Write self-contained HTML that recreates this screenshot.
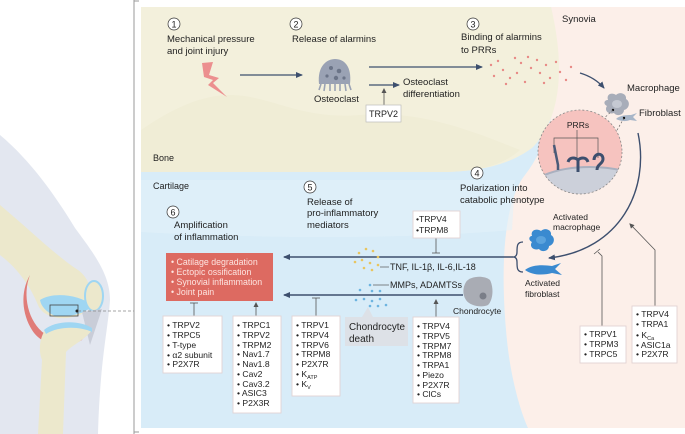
<!DOCTYPE html>
<html><head><meta charset="utf-8"><style>
html,body{margin:0;padding:0;background:#fff;}
svg{display:block;font-family:"Liberation Sans",Arial,sans-serif;}
</style></head><body>
<svg width="685" height="434" viewBox="0 0 685 434" xmlns="http://www.w3.org/2000/svg">
<defs>
<marker id="ah" markerWidth="8" markerHeight="8" refX="6" refY="3" orient="auto" markerUnits="userSpaceOnUse"><path d="M0,0 L7,3 L0,6 Z" fill="#3d4f6e"/></marker>
<marker id="ahs" markerWidth="6" markerHeight="6" refX="4" refY="2.5" orient="auto" markerUnits="userSpaceOnUse"><path d="M0,0 L5,2.5 L0,5 Z" fill="#555"/></marker>
</defs>
<!-- knee illustration -->
<path d="M0,135 C30,160 55,195 75,228 C95,255 110,275 110,300 C108,330 100,360 98,434 L0,434 Z" fill="#e3e7f0"/>
<path d="M0,205 L0,255 C20,270 32,290 38,305 C44,320 70,322 85,312 C95,300 92,280 78,270 C55,255 30,230 0,205 Z" fill="#ece8cc"/>
<path d="M30,275 C22,295 28,322 45,334 C55,342 70,342 85,332 L82,340 C65,350 42,346 32,330 C22,314 20,292 30,275 Z" fill="#e07c78"/>
<path d="M40,300 C52,292 78,294 92,305 C88,312 75,317 55,316 C46,312 41,306 40,300 Z" fill="#9fd6f2"/>
<ellipse cx="94" cy="296" rx="9" ry="15" fill="#ece8cc" stroke="#9fd6f2" stroke-width="2"/>
<path d="M82,312 L102,309 L90,345 Z" fill="#c9cdd8"/>
<path d="M45,330 C55,322 80,322 92,330 C85,340 72,345 66,352 L63,434 L38,434 L42,360 C38,350 40,338 45,330 Z" fill="#ece8cc"/>
<path d="M44,330 C55,320 80,320 92,328 L92,332 C80,326 58,326 46,334 Z" fill="#9fd6f2"/>
<rect x="50" y="305" width="28" height="11" fill="none" stroke="#444" stroke-width="0.8"/>
<circle cx="77" cy="311" r="1.5" fill="#222"/>
<line x1="78" y1="311" x2="134" y2="311" stroke="#888" stroke-width="0.8" stroke-dasharray="3,2"/>
<!-- frame -->
<line x1="134" y1="0" x2="134" y2="434" stroke="#9a9a9a" stroke-width="1"/>
<line x1="134" y1="1" x2="139" y2="1" stroke="#9a9a9a"/>
<line x1="134" y1="432" x2="139" y2="432" stroke="#9a9a9a"/>
<!-- regions -->
<rect x="141" y="7" width="544" height="421" fill="#fcefe9"/>
<path d="M141,7 L551,7 C562,60 560,130 525,175 C505,200 500,260 506,330 C510,380 522,415 528,428 L141,428 Z" fill="#d8ecf8"/>
<path d="M141,180 L515,180 L512,230 C400,240 250,238 141,232 Z" fill="#e2f1fa" opacity="0.6"/>
<path d="M141,7 L551,7 C566,70 560,120 532,148 C505,168 470,172 440,172 L141,172 Z" fill="#f3f0dc"/>
<path d="M141,130 C170,110 200,95 230,95 C270,95 300,120 360,115 C420,110 470,130 520,150 C500,168 470,172 440,172 L141,172 Z" fill="#f0edd6"/>
<!-- step labels -->
<g font-size="9.5" fill="#222">
<circle cx="174" cy="24" r="6" fill="#fff" stroke="#333" stroke-width="0.7"/><text x="174" y="27.5" text-anchor="middle" font-size="9">1</text>
<text x="167" y="42">Mechanical pressure</text><text x="167" y="54">and joint injury</text>
<circle cx="296" cy="24" r="6" fill="#fff" stroke="#333" stroke-width="0.7"/><text x="296" y="27.5" text-anchor="middle" font-size="9">2</text>
<text x="292" y="42">Release of alarmins</text>
<circle cx="473" cy="24" r="6" fill="#fff" stroke="#333" stroke-width="0.7"/><text x="473" y="27.5" text-anchor="middle" font-size="9">3</text>
<text x="461" y="40">Binding of alarmins</text><text x="461" y="53">to PRRs</text>
<text x="562" y="22">Synovia</text>
<text x="627" y="91">Macrophage</text>
<text x="639" y="116">Fibroblast</text>
<text x="153" y="161" font-size="9">Bone</text>
<text x="153" y="189" font-size="9">Cartilage</text>
<circle cx="477" cy="173" r="6" fill="#fff" stroke="#333" stroke-width="0.7"/><text x="477" y="176.5" text-anchor="middle" font-size="9">4</text>
<text x="460" y="191">Polarization into</text><text x="460" y="203">catabolic phenotype</text>
<circle cx="310" cy="187" r="6" fill="#fff" stroke="#333" stroke-width="0.7"/><text x="310" y="190.5" text-anchor="middle" font-size="9">5</text>
<text x="307" y="205">Release of</text><text x="307" y="216">pro-inflammatory</text><text x="307" y="228">mediators</text>
<circle cx="173" cy="212" r="6" fill="#fff" stroke="#333" stroke-width="0.7"/><text x="173" y="215.5" text-anchor="middle" font-size="9">6</text>
<text x="174" y="228">Amplification</text><text x="174" y="240">of inflammation</text>
<text x="403" y="85">Osteoclast</text><text x="403" y="97">differentiation</text>
<text x="314" y="102">Osteoclast</text>
</g>
<!-- lightning -->
<path d="M202,63 L213,62 L209,75 L219,78 L213,83 L227,97 L208,85 L213,80 L204,77 Z" fill="#ec8f8f"/>
<!-- arrows top -->
<line x1="240" y1="75" x2="302" y2="75" stroke="#3d4f6e" stroke-width="1.3" marker-end="url(#ah)"/>
<line x1="369" y1="67" x2="482" y2="67" stroke="#3d4f6e" stroke-width="1.3" marker-end="url(#ah)"/>
<line x1="369" y1="85" x2="399" y2="85" stroke="#3d4f6e" stroke-width="1.3" marker-end="url(#ah)"/>
<line x1="384" y1="105" x2="384" y2="89" stroke="#555" stroke-width="0.8" marker-end="url(#ahs)"/>
<rect x="366" y="105" width="35" height="17" fill="#fff" stroke="#bbb" stroke-width="0.7"/>
<text x="383.5" y="117" font-size="9" text-anchor="middle" fill="#222">TRPV2</text>
<!-- osteoclast -->
<path d="M319,84 C317,66 327,59 335,59 C344,59 352,66 350,84 Z" fill="#9aa2b4"/>
<g stroke="#9aa2b4" stroke-width="1.6"><line x1="321" y1="84" x2="319" y2="90"/><line x1="325" y1="84" x2="324" y2="91"/><line x1="330" y1="84" x2="330" y2="91"/><line x1="335" y1="84" x2="335" y2="91"/><line x1="340" y1="84" x2="340" y2="91"/><line x1="345" y1="84" x2="346" y2="91"/><line x1="349" y1="84" x2="351" y2="90"/></g>
<g fill="#6b7488"><circle cx="331" cy="68" r="2"/><circle cx="339" cy="71" r="2.3"/><circle cx="327" cy="76" r="1.6"/><circle cx="336" cy="78" r="2.2"/><circle cx="344" cy="78" r="1.6"/></g>
<!-- red dots -->
<g fill="#e88a86">
<circle cx="491" cy="65" r="1.2"/><circle cx="498" cy="61" r="1.2"/><circle cx="503" cy="70" r="1.2"/><circle cx="494" cy="76" r="1.2"/><circle cx="510" cy="78" r="1.2"/><circle cx="517" cy="73" r="1.2"/><circle cx="521" cy="63" r="1.2"/><circle cx="528" cy="57" r="1.2"/><circle cx="531" cy="68" r="1.2"/><circle cx="537" cy="60" r="1.2"/><circle cx="540" cy="73" r="1.2"/><circle cx="546" cy="65" r="1.2"/><circle cx="550" cy="78" r="1.2"/><circle cx="556" cy="62" r="1.2"/><circle cx="560" cy="72" r="1.2"/><circle cx="566" cy="80" r="1.2"/><circle cx="571" cy="67" r="1.2"/><circle cx="506" cy="84" r="1.2"/><circle cx="525" cy="82" r="1.2"/><circle cx="544" cy="83" r="1.2"/><circle cx="515" cy="58" r="1.2"/>
</g>
<path d="M580,73 C590,76 598,81 604,88" fill="none" stroke="#3d4f6e" stroke-width="1.3" marker-end="url(#ah)"/>
<!-- macrophage & fibroblast small -->
<path d="M608,100 C606,94 612,92 616,95 C620,91 627,94 626,99 C631,102 629,109 624,110 C624,115 617,117 614,113 C608,115 604,110 607,106 C603,104 604,100 608,100 Z" fill="#a8adb9"/>
<ellipse cx="617" cy="104" rx="5" ry="4" fill="#c5c9d2"/>
<circle cx="613" cy="110" r="1.2" fill="#111"/>
<path d="M616,119 C620,115 627,115 631,115 L637,113 L633,117 L637,121 L630,120 C625,122 620,121 616,119 Z" fill="#a8b6c8"/>
<circle cx="624" cy="118" r="1.2" fill="#111"/>
<!-- PRR circle -->
<line x1="613" y1="110" x2="600" y2="122" stroke="#555" stroke-width="0.6" stroke-dasharray="2,2"/>
<line x1="624" y1="118" x2="616" y2="132" stroke="#555" stroke-width="0.6" stroke-dasharray="2,2"/>
<clipPath id="cc"><circle cx="580" cy="152" r="42"/></clipPath>
<circle cx="580" cy="152" r="42" fill="#f6c3bf"/>
<g clip-path="url(#cc)"><ellipse cx="590" cy="195" rx="65" ry="28" fill="#ccd0da" stroke="#aab0bf" stroke-width="2"/></g>
<circle cx="580" cy="152" r="42" fill="none" stroke="#888" stroke-width="0.8" stroke-dasharray="2,2"/>
<text x="578" y="128" font-size="8.5" fill="#222" text-anchor="middle">PRRs</text>
<path d="M554,153 L554,138 L598,138 L598,158 M577,130 L577,158" fill="none" stroke="#555" stroke-width="0.7"/>
<path d="M554,145 L558,165 L558,170" stroke="#4a5a78" stroke-width="2.5" fill="none"/>
<path d="M568,162 C570,156 576,158 578,160 C580,158 586,156 588,162 M578,160 L578,172" stroke="#3d4f6e" stroke-width="3" fill="none"/>
<path d="M594,160 C594,153 603,152 603,159 C603,164 597,164 597,170" stroke="#3d4f6e" stroke-width="3" fill="none"/>
<!-- big curve -->
<path d="M638,133 C650,190 620,250 549,258" fill="none" stroke="#3d4f6e" stroke-width="1.4" marker-end="url(#ah)"/>
<!-- activated -->
<g font-size="8.5" fill="#222">
<text x="553" y="220">Activated</text><text x="553" y="230">macrophage</text>
<text x="525" y="286">Activated</text><text x="525" y="297">fibroblast</text>
<text x="453" y="314">Chondrocyte</text>
</g>
<path d="M532,236 C530,230 537,228 541,231 C545,227 552,230 551,235 C556,238 554,245 549,246 C549,251 542,253 539,249 C533,251 529,246 532,242 C528,240 529,236 532,236 Z" fill="#3a8ad0"/>
<ellipse cx="541" cy="240" rx="5" ry="4" fill="#5ba3dd"/>
<path d="M525,270 C532,264 545,265 552,266 L561,263 L555,269 L562,275 L552,273 C545,275 533,276 525,270 Z" fill="#3a8ad0"/>
<path d="M523,242 C517,242 517,246 517,252 C517,256 515,257 513,257 C515,257 517,258 517,262 C517,268 517,272 523,272" fill="none" stroke="#3d4f6e" stroke-width="1.3"/>
<!-- main arrows -->
<line x1="513" y1="257" x2="284" y2="257" stroke="#3d4f6e" stroke-width="1.4" marker-end="url(#ah)"/>
<line x1="463" y1="295" x2="284" y2="295" stroke="#3d4f6e" stroke-width="1.4" marker-end="url(#ah)"/>
<!-- yellow dots -->
<g fill="#e8c560"><circle cx="359" cy="253" r="1.3"/><circle cx="366" cy="249" r="1.3"/><circle cx="373" cy="251" r="1.3"/><circle cx="378" cy="257" r="1.3"/><circle cx="362" cy="260" r="1.3"/><circle cx="370" cy="263" r="1.3"/><circle cx="378" cy="265" r="1.3"/><circle cx="364" cy="268" r="1.3"/><circle cx="372" cy="270" r="1.3"/><circle cx="355" cy="262" r="1.3"/></g>
<line x1="380" y1="267" x2="389" y2="267" stroke="#555" stroke-width="0.7"/>
<text x="390" y="270" font-size="9" fill="#222">TNF, IL-1β, IL-6,IL-18</text>
<g fill="#6db4e0"><circle cx="360" cy="290" r="1.3"/><circle cx="370" cy="285" r="1.3"/><circle cx="372" cy="291" r="1.3"/><circle cx="380" cy="291" r="1.3"/><circle cx="364" cy="299" r="1.3"/><circle cx="372" cy="301" r="1.3"/><circle cx="380" cy="299" r="1.3"/><circle cx="370" cy="306" r="1.3"/><circle cx="378" cy="306" r="1.3"/><circle cx="386" cy="305" r="1.3"/><circle cx="356" cy="300" r="1.3"/></g>
<line x1="373" y1="285" x2="389" y2="285" stroke="#555" stroke-width="0.7"/>
<text x="390" y="288" font-size="9" fill="#222">MMPs, ADAMTSs</text>
<!-- chondrocyte -->
<path d="M466,282 C470,276 484,275 490,280 C494,288 493,300 488,305 C482,308 470,306 466,300 C462,294 463,287 466,282 Z" fill="#a9acb4"/>
<circle cx="483" cy="296" r="3.5" fill="#7a7e88"/>
<!-- chondrocyte death -->
<path d="M345,317 L362,317 L368,307 L373,317 L408,317 L408,346 L345,346 Z" fill="#dde1e7"/>
<text x="349" y="330" font-size="10" fill="#222" textLength="56" lengthAdjust="spacingAndGlyphs">Chondrocyte</text>
<text x="349" y="342" font-size="10" fill="#222">death</text>
<!-- red box -->
<rect x="166" y="253" width="107" height="48" fill="#dd6a61"/>
<g font-size="8.8" fill="#fde4e0">
<text x="171" y="265">• Catilage degradation</text>
<text x="171" y="275">• Ectopic ossification</text>
<text x="171" y="285">• Synovial inflammation</text>
<text x="171" y="295">• Joint pain</text>
</g>
<!-- connectors to boxes -->
<g stroke="#555" stroke-width="0.8" fill="none">
<line x1="194" y1="316" x2="194" y2="303"/><line x1="190" y1="303" x2="198" y2="303"/>
<line x1="256" y1="316" x2="256" y2="303" marker-end="url(#ahs)"/>
<line x1="316" y1="316" x2="316" y2="298"/><line x1="312" y1="298" x2="320" y2="298"/>
<line x1="436" y1="317" x2="436" y2="300" marker-end="url(#ahs)"/>
<line x1="436" y1="238" x2="436" y2="253"/><line x1="432" y1="253" x2="440" y2="253"/>
<path d="M602,326 L602,256 L598,252"/><line x1="594" y1="254" x2="600" y2="249"/>
<path d="M655,306 L655,250 L630,224" marker-end="url(#ahs)"/>
</g>
<!-- boxes -->
<g fill="#fff" stroke="#e2d3d3" stroke-width="0.9">
<rect x="413" y="211" width="47" height="27"/>
<rect x="163" y="316" width="59" height="57"/>
<rect x="233" y="316" width="48" height="97"/>
<rect x="292" y="316" width="48" height="80"/>
<rect x="413" y="317" width="46" height="86"/>
<rect x="580" y="326" width="46" height="37"/>
<rect x="632" y="306" width="45" height="57"/>
</g>
<g font-size="8.6" fill="#222">
<text x="416" y="222">•TRPV4</text><text x="416" y="233">•TRPM8</text>
<text x="167" y="328">• TRPV2</text><text x="167" y="338">• TRPC5</text><text x="167" y="348">• T-type</text><text x="167" y="358">• α2 subunit</text><text x="167" y="367">• P2X7R</text>
<text x="237" y="328">• TRPC1</text><text x="237" y="338">• TRPV2</text><text x="237" y="348">• TRPM2</text><text x="237" y="357">• Nav1.7</text><text x="237" y="367">• Nav1.8</text><text x="237" y="377">• Cav2</text><text x="237" y="387">• Cav3.2</text><text x="237" y="396">• ASIC3</text><text x="237" y="406">• P2X3R</text>
<text x="296" y="328">• TRPV1</text><text x="296" y="338">• TRPV4</text><text x="296" y="348">• TRPV6</text><text x="296" y="357">• TRPM8</text><text x="296" y="367">• P2X7R</text><text x="296" y="377">• K<tspan font-size="5.5" dy="2">ATP</tspan></text><text x="296" y="387">• K<tspan font-size="5.5" dy="2">V</tspan></text>
<text x="417" y="329">• TRPV4</text><text x="417" y="339">• TRPV5</text><text x="417" y="349">• TRPM7</text><text x="417" y="358">• TRPM8</text><text x="417" y="368">• TRPA1</text><text x="417" y="378">• Piezo</text><text x="417" y="388">• P2X7R</text><text x="417" y="397">• ClCs</text>
<text x="584" y="337">• TRPV1</text><text x="584" y="347">• TRPM3</text><text x="584" y="357">• TRPC5</text>
<text x="636" y="317">• TRPV4</text><text x="636" y="327">• TRPA1</text><text x="636" y="338">• K<tspan font-size="5.5" dy="2">Ca</tspan></text><text x="636" y="348">• ASIC1a</text><text x="636" y="357">• P2X7R</text>
</g>
</svg>
</body></html>
